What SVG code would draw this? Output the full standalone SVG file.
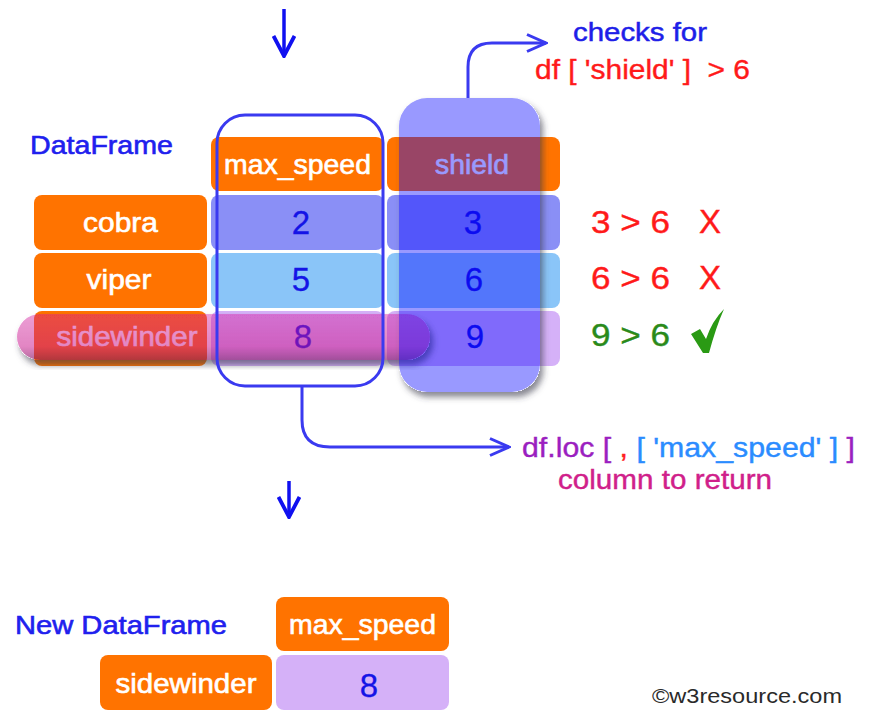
<svg xmlns="http://www.w3.org/2000/svg" width="877" height="710" viewBox="0 0 877 710">
  <style>
    text { font-family: "Liberation Sans", Arial, sans-serif; }
    .lbl { fill: #ffffff; stroke: #ffffff; stroke-width: 0.6; font-size: 27px; text-anchor: middle; }
    .num { fill: #1414e6; stroke: #1414e6; stroke-width: 0.3; font-size: 33px; text-anchor: middle; }
    .hdr { fill: #ff7300; }
    .c1 { fill: #8a8ff6; }
    .c2 { fill: #8ac5f8; }
    .c3 { fill: #d5b1f8; }
    .title { fill: #2020ee; stroke: #2020ee; stroke-width: 0.6; font-size: 26px; }
    .red { fill: #ff1a1a; stroke: #ff1a1a; stroke-width: 0.4; }
    .conn { fill: none; stroke: #3a3af0; stroke-width: 3; }
    .down { fill: none; stroke: #1010f0; stroke-width: 3.5; }
  </style>
  <defs>
    <marker id="chev" viewBox="0 0 24 20" refX="22" refY="10" markerWidth="24" markerHeight="20" markerUnits="userSpaceOnUse" orient="auto">
      <path d="M3,1.5 L22,10 L3,18.5" fill="none" stroke="#3a3af0" stroke-width="3" stroke-linejoin="miter"/>
    </marker>
    <marker id="chevDown" viewBox="0 0 24 24" refX="22" refY="12" markerWidth="24" markerHeight="24" markerUnits="userSpaceOnUse" orient="auto">
      <path d="M2,1.5 L22,12 L2,22.5" fill="none" stroke="#1010f0" stroke-width="3.8" stroke-linejoin="miter"/>
    </marker>
    <!-- shadow drawn only outside the translucent shape -->
    <filter id="outerShadow" x="-20%" y="-20%" width="140%" height="140%">
      <feColorMatrix in="SourceAlpha" type="matrix" values="0 0 0 0 0  0 0 0 0 0  0 0 0 0 0  0 0 0 100 0" result="solid"/>
      <feGaussianBlur in="solid" stdDeviation="3" result="blur"/>
      <feOffset in="blur" dx="3" dy="5" result="off"/>
      <feComposite in="off" in2="solid" operator="out" result="ring"/>
      <feFlood flood-color="#3a3a4a" flood-opacity="0.6"/>
      <feComposite in2="ring" operator="in" result="shade"/>
      <feMerge><feMergeNode in="shade"/><feMergeNode in="SourceGraphic"/></feMerge>
    </filter>
    <linearGradient id="pillFill" x1="0" y1="0" x2="0" y2="1">
      <stop offset="0" stop-color="#d0109a" stop-opacity="0.42"/>
      <stop offset="0.7" stop-color="#c8108c" stop-opacity="0.52"/>
      <stop offset="1" stop-color="#801060" stop-opacity="0.62"/>
    </linearGradient>
  </defs>

  <!-- title -->
  <text class="title" x="30" y="154" textLength="143" lengthAdjust="spacingAndGlyphs">DataFrame</text>

  <!-- header row -->
  <g id="hdr-max_speed">
    <rect class="hdr" x="211" y="137" width="173" height="54" rx="8"/>
    <text class="lbl" x="297.5" y="174" textLength="147" lengthAdjust="spacingAndGlyphs">max_speed</text>
  </g>
  <g id="hdr-shield">
    <rect class="hdr" x="387" y="137" width="173" height="54" rx="8"/>
    <text class="lbl" x="472" y="174" textLength="74" lengthAdjust="spacingAndGlyphs">shield</text>
  </g>

  <!-- row: cobra -->
  <g id="row-cobra">
    <rect class="hdr" x="34" y="195" width="173" height="55" rx="8"/>
    <text class="lbl" x="120.5" y="232" textLength="75" lengthAdjust="spacingAndGlyphs">cobra</text>
    <rect class="c1" x="211" y="195" width="173" height="55" rx="8"/>
    <text class="num" x="301" y="234">2</text>
    <rect class="c1" x="387" y="195" width="173" height="55" rx="8"/>
    <text class="num" x="473" y="234">3</text>
  </g>

  <!-- row: viper -->
  <g id="row-viper">
    <rect class="hdr" x="34" y="253" width="173" height="55" rx="8"/>
    <text class="lbl" x="119" y="289" textLength="65" lengthAdjust="spacingAndGlyphs">viper</text>
    <rect class="c2" x="211" y="253" width="173" height="55" rx="8"/>
    <text class="num" x="301" y="291">5</text>
    <rect class="c2" x="387" y="253" width="173" height="55" rx="8"/>
    <text class="num" x="474" y="291">6</text>
  </g>

  <!-- row: sidewinder -->
  <g id="row-sidewinder">
    <rect class="hdr" x="34" y="311" width="173" height="55" rx="8"/>
    <text class="lbl" x="127" y="346" textLength="141" lengthAdjust="spacingAndGlyphs">sidewinder</text>
    <rect class="c3" x="211" y="311" width="173" height="55" rx="8"/>
    <text class="num" x="303" y="348">8</text>
    <rect class="c3" x="387" y="311" width="173" height="55" rx="8"/>
    <text class="num" x="475" y="348">9</text>
  </g>

  <!-- row selection pill -->
  <g id="sel-row">
    <rect x="17" y="314" width="413" height="46" rx="23" fill="url(#pillFill)" filter="url(#outerShadow)"/>
  </g>

  <!-- column selection outline -->
  <g id="sel-col">
    <rect x="217" y="115" width="166" height="271" rx="28" fill="none" stroke="#3a3af0" stroke-width="3"/>
  </g>

  <!-- condition column highlight -->
  <g id="cond-col">
    <rect x="399" y="98" width="141" height="294" rx="28" fill="#0000ff" fill-opacity="0.4" filter="url(#outerShadow)"/>
  </g>

  <!-- connectors -->
  <g id="connectors">
    <path class="down" d="M284,9 L284,56" marker-end="url(#chevDown)"/>
    <path class="conn" d="M468,98 L468,67 Q468,43 492,43 L546,43" marker-end="url(#chev)"/>
    <path class="conn" d="M302,386 L302,420 Q302,447 330,447 L509,447" marker-end="url(#chev)"/>
    <path class="down" d="M289,481 L289,517" marker-end="url(#chevDown)"/>
  </g>

  <!-- condition notes -->
  <g id="cond-note">
    <text x="573" y="41" font-size="26" fill="#1e1ee8" stroke="#1e1ee8" stroke-width="0.5" textLength="134" lengthAdjust="spacingAndGlyphs">checks for</text>
    <text x="535" y="79" font-size="27" class="red" xml:space="preserve" textLength="215" lengthAdjust="spacingAndGlyphs">df [ 'shield' ]  &gt; 6</text>
  </g>

  <!-- per-row results -->
  <g id="results">
    <text x="591" y="233" font-size="32" class="red" textLength="79" lengthAdjust="spacingAndGlyphs">3 &gt; 6</text>
    <text x="699" y="233" font-size="33" class="red" stroke-width="0.8">X</text>
    <text x="591" y="289" font-size="32" class="red" textLength="79" lengthAdjust="spacingAndGlyphs">6 &gt; 6</text>
    <text x="699" y="289" font-size="33" class="red" stroke-width="0.8">X</text>
    <text x="591" y="346" font-size="32" fill="#2a8a1a" stroke="#2a8a1a" stroke-width="0.4" textLength="79" lengthAdjust="spacingAndGlyphs">9 &gt; 6</text>
    <path d="M691,334 L700,329 L706,339 Q712,321 724,309 Q716,327 709,353 L703,353 Z" fill="#2a9a14"/>
  </g>

  <!-- selection note -->
  <g id="loc-note">
    <text x="522" y="457" font-size="27.5" stroke-width="0.4" textLength="333" lengthAdjust="spacingAndGlyphs"><tspan fill="#9b1fc0" stroke="#9b1fc0">df.loc [ </tspan><tspan fill="#ff2020" stroke="#ff2020">,</tspan><tspan fill="#2b8cff" stroke="#2b8cff"> [ 'max_speed' ] </tspan><tspan fill="#9b1fc0" stroke="#9b1fc0">]</tspan></text>
    <text x="558" y="489" font-size="27" fill="#d0208a" stroke="#d0208a" stroke-width="0.4" textLength="214" lengthAdjust="spacingAndGlyphs">column to return</text>
  </g>

  <!-- result frame -->
  <text class="title" x="15" y="634" textLength="212" lengthAdjust="spacingAndGlyphs">New DataFrame</text>
  <g id="new-hdr">
    <rect class="hdr" x="276" y="597" width="173" height="54" rx="8"/>
    <text class="lbl" x="362.5" y="634" textLength="147" lengthAdjust="spacingAndGlyphs">max_speed</text>
  </g>
  <g id="new-row">
    <rect class="hdr" x="100" y="655" width="172" height="55" rx="8"/>
    <text class="lbl" x="186" y="693" textLength="141" lengthAdjust="spacingAndGlyphs">sidewinder</text>
    <rect class="c3" x="276" y="655" width="173" height="55" rx="8"/>
    <text class="num" x="369" y="697">8</text>
  </g>

  <text x="652" y="703" font-size="20" fill="#2a2a2a" textLength="190" lengthAdjust="spacingAndGlyphs">©w3resource.com</text>
</svg>
